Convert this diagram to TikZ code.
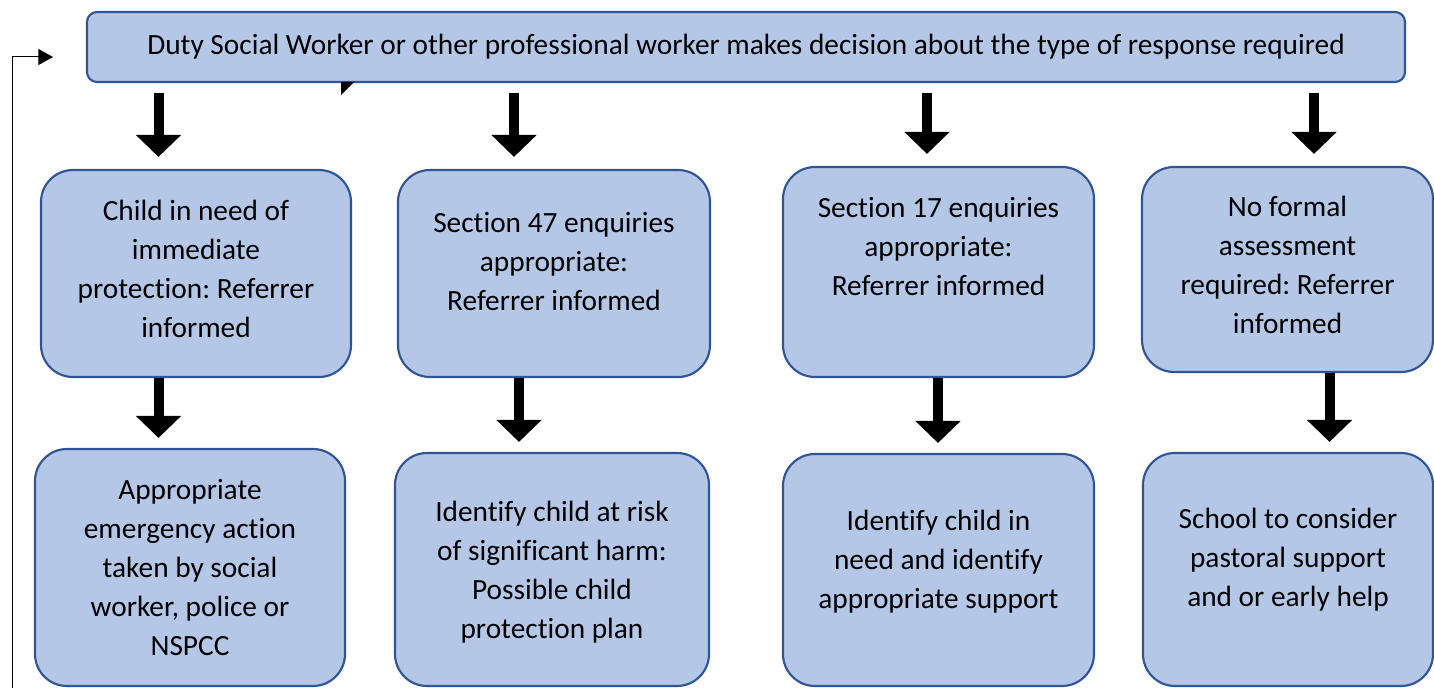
\documentclass[tikz,border=0pt]{standalone}
\usepackage{fontspec}
\setmainfont[Ligatures=NoCommon]{Carlito}
\usetikzlibrary{arrows.meta,calc}
\definecolor{boxfill}{HTML}{B4C7E7}
\definecolor{boxline}{HTML}{2F5597}
\frenchspacing
\begin{document}
\begin{tikzpicture}[x=0.75pt,y=-0.75pt,
  box/.style={draw=boxline, fill=boxfill, line width=1.6pt, rounded corners=24pt,
    align=center, inner sep=0pt, font=\fontsize{22}{29.25}\selectfont},
  blk/.style={line width=7.5pt, -{Triangle[width=33pt,length=16.5pt]}},
  back/.style={line width=0.75pt, -{Triangle[width=12pt,length=11pt]}}]
\useasboundingbox (0,0) rectangle (1434,688);
\node[box, rounded corners=7.5pt, minimum width=988.5pt, minimum height=52.5pt] (top) at (746,47)
  {Duty Social Worker or other professional worker makes decision about the type of response required};
% first row
\node[box, text depth=7.5pt, minimum width=232.5pt, minimum height=155.25pt] (dec0) at (196,273.5)
  {Child in need of\\immediate\\protection: Referrer\\informed};
\node[box, text depth=18pt, minimum width=234pt, minimum height=155.25pt] (dec1) at (554,273.5)
  {Section 47 enquiries\\appropriate:\\Referrer informed};
\node[box, text depth=39pt, minimum width=233.25pt, minimum height=157.5pt] (dec2) at (938.5,272)
  {Section 17 enquiries\\appropriate:\\Referrer informed};
\node[box, text depth=6.75pt, minimum width=218.25pt, minimum height=153.75pt] (dec3) at (1287.5,269.5)
  {No formal\\assessment\\required: Referrer\\informed};
% second row
\node[box, minimum width=232.5pt, minimum height=177.75pt] (act0) at (190,567.5)
  {Appropriate\\emergency action\\taken by social\\worker, police or\\NSPCC};
\node[box, text depth=0pt, minimum width=235.5pt, minimum height=174.75pt] (act1) at (552,569.5)
  {Identify child at risk\\of significant harm:\\Possible child\\protection plan};
\node[box, text depth=16.5pt, minimum width=233.25pt, minimum height=174pt] (act2) at (938.5,570)
  {Identify child in\\need and identify\\appropriate support};
\node[box, text depth=18pt, minimum width=217.5pt, minimum height=174.75pt] (act3) at (1288,569.5)
  {School to consider\\pastoral support\\and or early help};
% arrows
\coordinate (a0) at ($(dec0.north)+(-37.5,0)$);
\coordinate (a1) at ($(dec1.north)+(-40,0)$);
\coordinate (a2) at ($(dec2.north)+(-11.5,0)$);
\coordinate (a3) at ($(dec3.north)+(26.5,0)$);
\foreach \i in {0,...,3}
  \draw[blk, shorten <=7.5pt, shorten >=9pt] (a\i |- top.south) -- (a\i);
\coordinate (b0) at ($(act0.north)+(-31.5,0)$);
\coordinate (b1) at ($(act1.north)+(-33,0)$);
\coordinate (b2) at ($(act2.north)+(-0.5,0)$);
\coordinate (b3) at ($(act3.north)+(41.5,0)$);
\foreach \i in {0,...,3}
  \draw[blk, shorten <=0pt, shorten >=7.5pt] (b\i |- dec\i.south) -- (b\i);
% loop back
\coordinate (fb0) at (12,690);
\coordinate (fb1) at (53,57);
\draw[back] (fb0) |- (fb1);
\fill (341,82) -- (354,82) -- (341,95) -- cycle;
\end{tikzpicture}
\end{document}
